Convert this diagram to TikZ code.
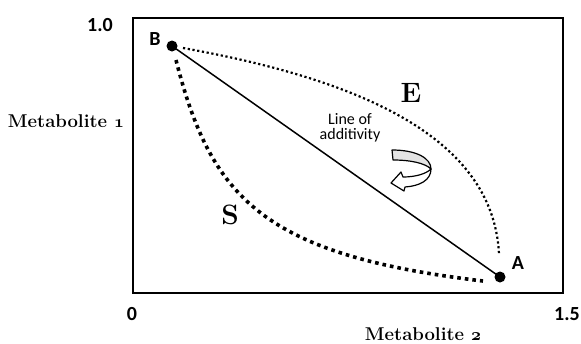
\documentclass[tikz,border=0pt]{standalone}
\usepackage{fontspec}
\newfontfamily\calib{Carlito}
\begin{document}
\begin{tikzpicture}[x=1pt,y=-1pt,
  dot/.style={circle,fill=black,inner sep=0pt,minimum size=11pt},
  frame/.style={line width=2.5pt},
  addline/.style={line width=1.5pt},
  edots/.style={line width=2.2pt,dash pattern=on 2.2pt off 2.6pt},
  sdots/.style={line width=3.6pt,dash pattern=on 3.6pt off 4pt},
  ticklbl/.style={inner sep=0pt,anchor=base,font=\calib\bfseries\fontsize{20}{22}\selectfont},
  axislbl/.style={inner sep=0pt,anchor=base,font=\bfseries\fontsize{18.5}{20}\selectfont},
  curvelbl/.style={inner sep=0pt,anchor=base,font=\bfseries\fontsize{28}{30}\selectfont},
  note/.style={inner sep=0pt,anchor=north,align=center,font=\calib\fontsize{16}{15.5}\selectfont}
]
\useasboundingbox (0,0) rectangle (581,343);
\fill[white] (0,0) rectangle (581,343);
% frame
\coordinate (fnw) at (133,18);
\coordinate (fse) at (563,293);
\draw[frame] (fnw) rectangle (fse);
% points
\node[dot] (B) at (172,46) {};
\node[dot] (A) at (500,277) {};
\draw[addline] (B.center) -- (A.center);
% E curve
\coordinate (Es) at (183,48);
\coordinate (Ee) at (499,254);
\draw[edots] (Es) .. controls (350,78) and (493,133) .. (Ee);
% S curve
\coordinate (Ss) at (176,60);
\coordinate (Se) at (483,281);
\draw[sdots] (Ss) .. controls (211,198) and (263,255) .. (Se);
% labels
\node[ticklbl] (t10) at (100,31) {1.0};
\node[ticklbl] (t0) at (132,320) {0};
\node[ticklbl] (t15) at (567,320) {1.5};
\node[ticklbl] (lB) at (155,45) {B};
\node[ticklbl] (lA) at (518,269) {A};
\node[axislbl] (m1) at (66,127) {Metabolite {\usefont{OML}{cmm}{b}{it}1}};
\node[axislbl] (m2) at (423,340) {Metabolite {\usefont{OML}{cmm}{b}{it}2}};
\node[curvelbl] (lE) at (411,102) {E};
\node[curvelbl] (lS) at (230,224) {S};
\node[note] (loa) at (350,113) {Line of\\additivity};
% curved arrow
\filldraw[fill=gray!22,line width=1.2pt,line join=round]
  (392,150) .. controls (416,150) and (431,158) .. (431,169)
  .. controls (425,163) and (410,160) .. (393,160) -- cycle;
\filldraw[fill=white,line width=1.2pt,line join=round]
  (431,169) .. controls (431,180) and (420,186) .. (405,187)
  -- (404,191) -- (391,183) -- (401,172) -- (403,177)
  .. controls (415,177) and (426,174) .. (431,169) -- cycle;
\end{tikzpicture}
\end{document}
